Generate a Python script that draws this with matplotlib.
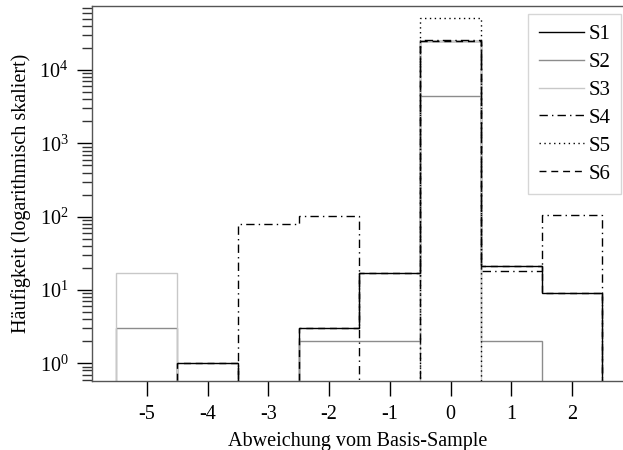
import numpy as np
import matplotlib
matplotlib.use("Agg")
import matplotlib.pyplot as plt
from matplotlib.lines import Line2D
from matplotlib.ticker import LogLocator, NullFormatter

plt.rcParams['font.family'] = ['Liberation Serif', 'DejaVu Serif']
plt.rcParams['mathtext.fontset'] = 'stix'
plt.rcParams['axes.unicode_minus'] = False

# deviations from the base sample, one bin per integer
deviation = [-5, -4, -3, -2, -1, 0, 1, 2]
s1 = [0, 1, 0, 3, 17, 25000, 21, 9]
s2 = [3, 0, 0, 2, 2, 4400, 2, 0]
s3 = [17, 0, 0, 0, 0, 25000, 0, 0]
s4 = [0, 0, 80, 102, 0, 25500, 18, 105]
s5 = [0, 0, 0, 0, 0, 52000, 0, 0]
s6 = [0, 1, 0, 3, 17, 25000, 21, 9]
labels = ["S1", "S2", "S3", "S4", "S5", "S6"]

edges = np.arange(-5.5, 3.0, 1.0)

fig = plt.figure(figsize=(6.23, 4.5), dpi=100)
ax = fig.add_axes([0.148, 0.1533, 0.853, 0.834])

styles = [
    dict(color='black', linestyle='-'),
    dict(color='#8c8c8c', linestyle='-'),
    dict(color='#c8c8c8', linestyle='-'),
    dict(color='black', linestyle=(0, (6, 3, 1, 3))),
    dict(color='black', linestyle=(0, (1, 2.5))),
    dict(color='black', linestyle=(0, (5, 3.5))),
]

handles = []
for vals, lab, st in zip([s1, s2, s3, s4, s5, s6], labels, styles):
    ax.hist(deviation, bins=edges, weights=vals, histtype='step', log=True,
            linewidth=1.0, **st)
    handles.append(Line2D([], [], linewidth=1.0, label=lab, **st))

ax.set_xlim(-5.9, 2.85)
ax.set_ylim(0.573, 7.57e4)
ax.set_xticks(deviation)
ax.set_xticklabels([str(d) for d in deviation])
ax.yaxis.set_major_locator(LogLocator(base=10, numticks=10))
ax.yaxis.set_minor_locator(LogLocator(base=10, subs=np.arange(2, 10), numticks=20))
ax.yaxis.set_minor_formatter(NullFormatter())

edge = '#555555'
for sp in ax.spines.values():
    sp.set_color(edge)
    sp.set_linewidth(1.0)
ax.tick_params(axis='both', which='major', direction='out', length=11,
               width=1.0, color='black', labelsize=14.5, pad=6)
ax.tick_params(axis='y', which='minor', direction='out', length=7,
               width=1.0, color='#333333')
ax.tick_params(axis='x', which='minor', bottom=False)

ax.set_xlabel("Abweichung vom Basis-Sample", fontsize=14.5, labelpad=6)
ax.set_ylabel("Häufigkeit (logarithmisch skaliert)", fontsize=14.5, labelpad=6)

leg = ax.legend(handles=handles, loc='upper right',
                bbox_to_anchor=(621 / 623, 1 - 14 / 450),
                bbox_transform=fig.transFigure, borderaxespad=0,
                fontsize=15, frameon=True, fancybox=False,
                handlelength=2.2, handletextpad=0.2, labelspacing=0.4,
                borderpad=0.5)
leg.get_frame().set_edgecolor('#cccccc')
leg.get_frame().set_linewidth(1.0)

fig.savefig("out.png", dpi=100)
